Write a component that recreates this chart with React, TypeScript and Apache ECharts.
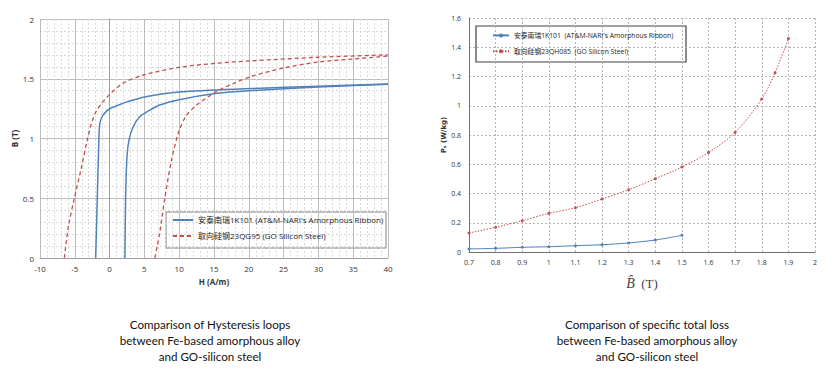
import React, { useEffect, useRef } from "react";
import * as echarts from "echarts";

// ---- Left chart: hysteresis loops (H in A/m, B in T) ----
const amorphousLower: number[][] = [
  [2.2, 0], [2.3, 0.5], [2.5, 0.85], [2.8, 0.99], [3.4, 1.1], [4.35, 1.185], [5.3, 1.22],
  [7.2, 1.28], [10, 1.325], [15.4, 1.378], [20, 1.40], [30, 1.43], [40, 1.455],
];
const amorphousUpper: number[][] = [
  [40, 1.456], [30, 1.437], [20.4, 1.418], [10, 1.39], [4.8, 1.345], [0.2, 1.255],
  [-0.9, 1.2], [-1.39, 1.13], [-1.53, 1.0], [-1.77, 0.5], [-2.0, 0],
];
const siliconUpper: number[][] = [
  [-6.5, 0], [-5.9, 0.27], [-5.1, 0.49], [-4.0, 0.77], [-3.2, 0.99], [-2.6, 1.13],
  [-1.9, 1.23], [-0.9, 1.31], [0.2, 1.38], [2, 1.465], [4.8, 1.53], [10, 1.595],
  [15.4, 1.63], [20.4, 1.65], [30, 1.68], [40, 1.70],
];
const siliconLower: number[][] = [
  [6.5, 0], [7.2, 0.21], [7.9, 0.49], [8.9, 0.82], [9.9, 1.05], [11, 1.19], [12.5, 1.28],
  [14.2, 1.35], [15.4, 1.395], [17.75, 1.46], [20.4, 1.52], [25, 1.59], [30, 1.64],
  [35, 1.665], [40, 1.69],
];
const loopNames = [
  "安泰南瑞1K101 (AT&M-NARI's Amorphous Ribbon)",
  "取向硅钢23QG95 (GO Silicon Steel)",
];

// ---- Right chart: specific total loss ----
const amorphousB = [0.7, 0.8, 0.9, 1.0, 1.1, 1.2, 1.3, 1.4, 1.5];
const amorphousLoss = [0.021, 0.025, 0.032, 0.036, 0.043, 0.05, 0.062, 0.082, 0.114];
const siliconB = [0.7, 0.8, 0.9, 1.0, 1.1, 1.2, 1.3, 1.4, 1.5, 1.6, 1.7, 1.8, 1.85, 1.9];
const siliconLoss = [0.13, 0.169, 0.214, 0.264, 0.303, 0.362, 0.426, 0.501, 0.581, 0.681, 0.818, 1.046, 1.226, 1.459];
const lossNames = [
  "安泰南瑞1K101  (AT&M-NARI's Amorphous Ribbon)",
  "取向硅钢23QH085  (GO Silicon Steel)",
];

const leftTitle = "Comparison of Hysteresis loops\nbetween Fe-based amorphous alloy\nand GO-silicon steel";
const rightTitle = "Comparison of specific total loss\nbetween Fe-based amorphous alloy\nand GO-silicon steel";

const BLUE = "#4f81bd";
const RED = "#c0504d";
const FONT = "'Open Sans', 'Noto Sans', 'Noto Sans CJK SC', sans-serif";

export default function App() {
  const ref = useRef<HTMLDivElement>(null);
  useEffect(() => {
    if (!ref.current) return;
    const chart = echarts.init(ref.current, undefined, { renderer: "svg" });
    const zip = (xs: number[], ys: number[]) => xs.map((x, i) => [x, ys[i]]);
    chart.setOption({
      animation: false,
      backgroundColor: "#ffffff",
      textStyle: { fontFamily: FONT },
      grid: [
        { left: 40, top: 19, right: 447, bottom: 126, containLabel: false },
        { left: 469, top: 18, right: 20, bottom: 132, containLabel: false },
      ],
      xAxis: [
        {
          gridIndex: 0, type: "value", min: -10, max: 40, interval: 5,
          name: "H (A/m)", nameLocation: "middle", nameGap: 19,
          nameTextStyle: { fontSize: 8, fontWeight: "bold", color: "#333" },
          axisLine: { show: true, lineStyle: { color: "#a0a0a0" } },
          axisTick: { show: false },
          axisLabel: { fontSize: 8, color: "#333", margin: 6 },
          splitLine: { show: true, lineStyle: { color: "#bdbdbd", width: 1 } },
          minorTick: { show: false, splitNumber: 5 },
          minorSplitLine: { show: true, lineStyle: { color: "#d9d9d9", type: [2, 2], width: 1 } },
        },
        {
          gridIndex: 1, type: "value", min: 0.7, max: 2, interval: 0.1,
          name: "{i|B̂}{n|  (T)}", nameLocation: "middle", nameGap: 24,
          nameTextStyle: {
            rich: {
              i: { fontFamily: "'Liberation Serif', serif", fontStyle: "italic", fontSize: 14, color: "#444" },
              n: { fontFamily: "'Liberation Serif', serif", fontSize: 13, color: "#444" },
            },
          },
          axisLine: { show: true, lineStyle: { color: "#707070" } },
          axisTick: { show: false },
          axisLabel: {
            fontSize: 7, color: "#333", margin: 7,
            formatter: (v: number) => String(Math.round(v * 10) / 10),
          },
          splitLine: { show: true, lineStyle: { color: "#b5b5b5", type: [2, 2] } },
        },
      ],
      yAxis: [
        {
          gridIndex: 0, type: "value", min: 0, max: 2, interval: 0.5,
          name: "B (T)", nameLocation: "middle", nameGap: 22, nameRotate: 90,
          nameTextStyle: { fontSize: 8, fontWeight: "bold", color: "#333" },
          axisLine: { show: true, lineStyle: { color: "#a0a0a0" } },
          axisTick: { show: false },
          axisLabel: { fontSize: 8, color: "#333", margin: 6 },
          splitLine: { show: true, lineStyle: { color: "#bdbdbd", width: 1 } },
          minorTick: { show: false, splitNumber: 5 },
          minorSplitLine: { show: true, lineStyle: { color: "#d9d9d9", type: [2, 2], width: 1 } },
        },
        {
          gridIndex: 1, type: "value", min: 0, max: 1.6, interval: 0.2,
          name: "Pₛ (W/kg)", nameLocation: "middle", nameGap: 15, nameRotate: 90,
          nameTextStyle: { fontSize: 7, fontWeight: "bold", color: "#333", fontFamily: "'DejaVu Sans', sans-serif" },
          axisLine: { show: true, lineStyle: { color: "#707070" } },
          axisTick: { show: false },
          axisLabel: {
            fontSize: 7, color: "#333", margin: 8,
            formatter: (v: number) => String(Math.round(v * 10) / 10),
          },
          splitLine: { show: true, lineStyle: { color: "#b5b5b5", type: [2, 2] } },
        },
      ],
      legend: [
        {
          data: loopNames, orient: "vertical", left: 172, top: 216, itemGap: 8,
          itemWidth: 20, itemHeight: 8, padding: 0,
          itemStyle: { opacity: 0 },
          textStyle: { fontSize: 8, color: "#222", fontFamily: FONT },
        },
        {
          data: lossNames, orient: "vertical", left: 492, top: 32, itemGap: 9,
          itemWidth: 16, itemHeight: 5, padding: 0,
          textStyle: { fontSize: 6.8, color: "#222", fontFamily: FONT },
        },
      ],
      graphic: [
        {
          type: "rect", x: 166, y: 212, z: -1,
          shape: { width: 220, height: 36 },
          style: { fill: "#fff", stroke: "#808080", lineWidth: 1 },
        },
        {
          type: "rect", x: 476, y: 26, z: -1,
          shape: { width: 210, height: 36 },
          style: { fill: "#fff", stroke: "#404040", lineWidth: 1.2 },
        },
        {
          type: "text", x: 210, y: 316,
          style: {
            text: leftTitle, fill: "#111", font: "11.6px Lato, sans-serif",
            textAlign: "center", lineHeight: 16,
          },
        },
        {
          type: "text", x: 647, y: 316,
          style: {
            text: rightTitle, fill: "#111", font: "11.6px Lato, sans-serif",
            textAlign: "center", lineHeight: 16,
          },
        },
      ],
      series: [
        {
          name: loopNames[0], type: "line", xAxisIndex: 0, yAxisIndex: 0,
          data: amorphousLower, smooth: 0.3, showSymbol: false, symbol: "none",
          lineStyle: { color: BLUE, width: 1.5 }, itemStyle: { color: BLUE },
        },
        {
          name: loopNames[0], type: "line", xAxisIndex: 0, yAxisIndex: 0,
          data: amorphousUpper, smooth: 0.3, showSymbol: false, symbol: "none",
          lineStyle: { color: BLUE, width: 1.5 }, itemStyle: { color: BLUE },
        },
        {
          name: loopNames[1], type: "line", xAxisIndex: 0, yAxisIndex: 0,
          data: siliconUpper, smooth: 0.3, showSymbol: false, symbol: "none",
          lineStyle: { color: RED, width: 1.3, type: [4, 3] }, itemStyle: { color: RED },
        },
        {
          name: loopNames[1], type: "line", xAxisIndex: 0, yAxisIndex: 0,
          data: siliconLower, smooth: 0.3, showSymbol: false, symbol: "none",
          lineStyle: { color: RED, width: 1.3, type: [4, 3] }, itemStyle: { color: RED },
        },
        {
          name: lossNames[0], type: "line", xAxisIndex: 1, yAxisIndex: 1,
          data: zip(amorphousB, amorphousLoss), smooth: 0.3,
          symbol: "circle", symbolSize: 3,
          lineStyle: { color: BLUE, width: 1 }, itemStyle: { color: BLUE },
        },
        {
          name: lossNames[1], type: "line", xAxisIndex: 1, yAxisIndex: 1,
          data: zip(siliconB, siliconLoss), smooth: 0.3,
          symbol: "circle", symbolSize: 3,
          lineStyle: { color: RED, width: 1, type: [1.5, 1.5] }, itemStyle: { color: RED },
        },
      ],
    });
    return () => chart.dispose();
  }, []);
  return (
    <div
      ref={ref}
      style={{ position: "fixed", left: 0, top: 0, width: 835, height: 384 }}
    />
  );
}
